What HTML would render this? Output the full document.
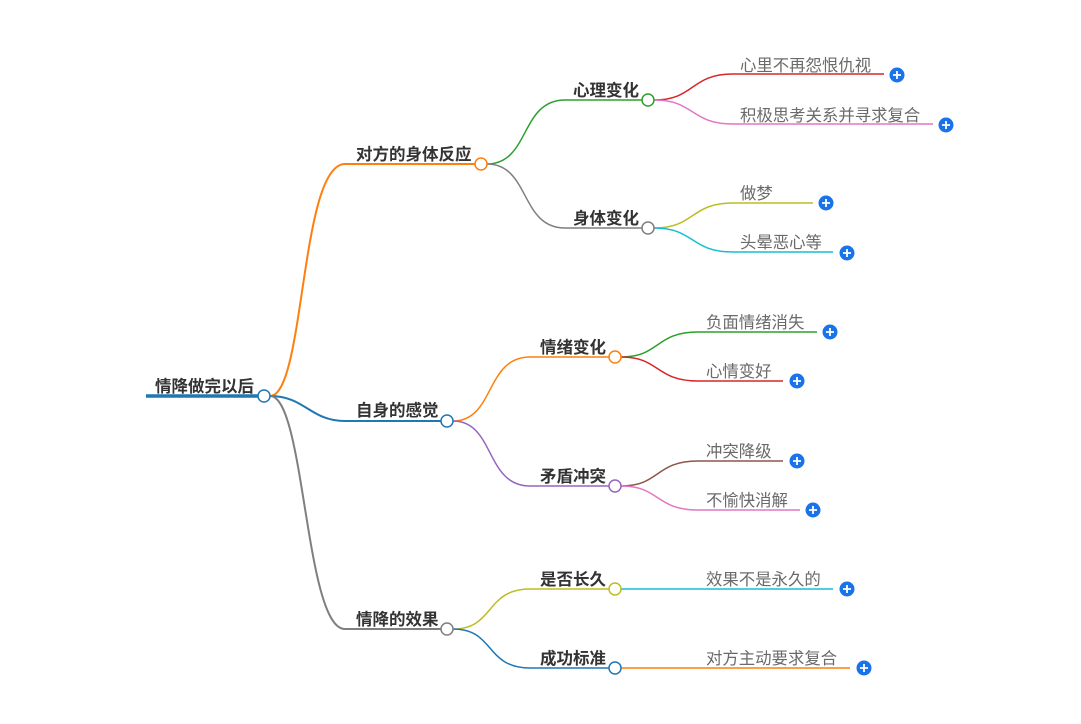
<!DOCTYPE html>
<html><head><meta charset="utf-8"><style>
html,body{margin:0;padding:0;background:#fff;}
svg{display:block;}
.b{font-family:"Liberation Sans","Noto Sans CJK SC",sans-serif;font-weight:bold;font-size:16.5px;fill:#333;}
.l{font-family:"Liberation Sans","Noto Sans CJK SC",sans-serif;font-size:16.4px;fill:#6a6a6a;}
</style></head><body>
<svg width="1081" height="724" viewBox="0 0 1081 724" xmlns="http://www.w3.org/2000/svg">
<g fill="none" stroke-width="1.5">
<line x1="146" y1="396" x2="258" y2="396" stroke="#1f77b4" stroke-width="3.5"/>
<path d="M270 396 C305 396,300 164,345 164 L475 164" stroke="#ff7f0e" stroke-width="2"/>
<path d="M270 396 C305 396,310 421,345 421 L441 421" stroke="#1f77b4" stroke-width="2"/>
<path d="M270 396 C305 396,305 629,345 629 L441 629" stroke="#7f7f7f" stroke-width="2"/>
<path d="M487 164 C530 164,520 100,565 100 L642 100" stroke="#2ca02c"/>
<path d="M487 164 C530 164,520 228,565 228 L642 228" stroke="#7f7f7f"/>
<path d="M453 421 C495 421,485 357,530 357 L609 357" stroke="#ff7f0e"/>
<path d="M453 421 C495 421,485 486,530 486 L609 486" stroke="#9467bd"/>
<path d="M453 629 C495 629,485 589,530 589 L609 589" stroke="#bcbd22"/>
<path d="M453 629 C495 629,485 668,530 668 L609 668" stroke="#1f77b4"/>
<path d="M654 100 C695 100,690 74,733 74 L884 74" stroke="#d62728"/>
<path d="M654 100 C695 100,690 124,733 124 L933 124" stroke="#e377c2"/>
<path d="M654 228 C695 228,690 203,733 203 L813 203" stroke="#bcbd22"/>
<path d="M654 228 C695 228,690 252,733 252 L833 252" stroke="#17becf"/>
<path d="M621 357 C660 357,655 332,698 332 L817 332" stroke="#2ca02c"/>
<path d="M621 357 C660 357,655 381,698 381 L783 381" stroke="#d62728"/>
<path d="M621 486 C660 486,655 461,698 461 L783 461" stroke="#8c564b"/>
<path d="M621 486 C660 486,655 510,698 510 L800 510" stroke="#e377c2"/>
<path d="M621 589 L833 589" stroke="#17becf"/>
<path d="M621 668 L850 668" stroke="#ff7f0e"/>
</g>
<g fill="#fff" stroke-width="1.5">
<circle cx="264" cy="396" r="6" stroke="#1f77b4"/>
<circle cx="481" cy="164" r="6" stroke="#ff7f0e"/>
<circle cx="447" cy="421" r="6" stroke="#1f77b4"/>
<circle cx="447" cy="629" r="6" stroke="#7f7f7f"/>
<circle cx="648" cy="100" r="6" stroke="#2ca02c"/>
<circle cx="648" cy="228" r="6" stroke="#7f7f7f"/>
<circle cx="615" cy="357" r="6" stroke="#ff7f0e"/>
<circle cx="615" cy="486" r="6" stroke="#9467bd"/>
<circle cx="615" cy="589" r="6" stroke="#bcbd22"/>
<circle cx="615" cy="668" r="6" stroke="#1f77b4"/>
</g>
<g fill="#1a73e8">
<circle cx="897" cy="75" r="7.5"/><circle cx="946" cy="125" r="7.5"/>
<circle cx="826" cy="203" r="7.5"/><circle cx="847" cy="253" r="7.5"/>
<circle cx="830" cy="332" r="7.5"/><circle cx="797" cy="381" r="7.5"/>
<circle cx="797" cy="461" r="7.5"/><circle cx="813" cy="510" r="7.5"/>
<circle cx="847" cy="589" r="7.5"/><circle cx="864" cy="668" r="7.5"/>
</g>
<g stroke="#fff" stroke-width="1.8">
<path d="M893 75h8M897 71v8"/><path d="M942 125h8M946 121v8"/>
<path d="M822 203h8M826 199v8"/><path d="M843 253h8M847 249v8"/>
<path d="M826 332h8M830 328v8"/><path d="M793 381h8M797 377v8"/>
<path d="M793 461h8M797 457v8"/><path d="M809 510h8M813 506v8"/>
<path d="M843 589h8M847 585v8"/><path d="M860 668h8M864 664v8"/>
</g>
<text class="b" x="155" y="392">情降做完以后</text>
<text class="b" x="356" y="160">对方的身体反应</text>
<text class="b" x="356" y="416">自身的感觉</text>
<text class="b" x="356" y="625">情降的效果</text>
<text class="b" x="573" y="96">心理变化</text>
<text class="b" x="573" y="224">身体变化</text>
<text class="b" x="540" y="353">情绪变化</text>
<text class="b" x="540" y="482">矛盾冲突</text>
<text class="b" x="540" y="585">是否长久</text>
<text class="b" x="540" y="664">成功标准</text>
<text class="l" x="740" y="71">心里不再怨恨仇视</text>
<text class="l" x="740" y="121">积极思考关系并寻求复合</text>
<text class="l" x="740" y="199">做梦</text>
<text class="l" x="740" y="248">头晕恶心等</text>
<text class="l" x="706" y="328">负面情绪消失</text>
<text class="l" x="706" y="377">心情变好</text>
<text class="l" x="706" y="457">冲突降级</text>
<text class="l" x="706" y="506">不愉快消解</text>
<text class="l" x="706" y="585">效果不是永久的</text>
<text class="l" x="706" y="664">对方主动要求复合</text>
</svg>
</body></html>
